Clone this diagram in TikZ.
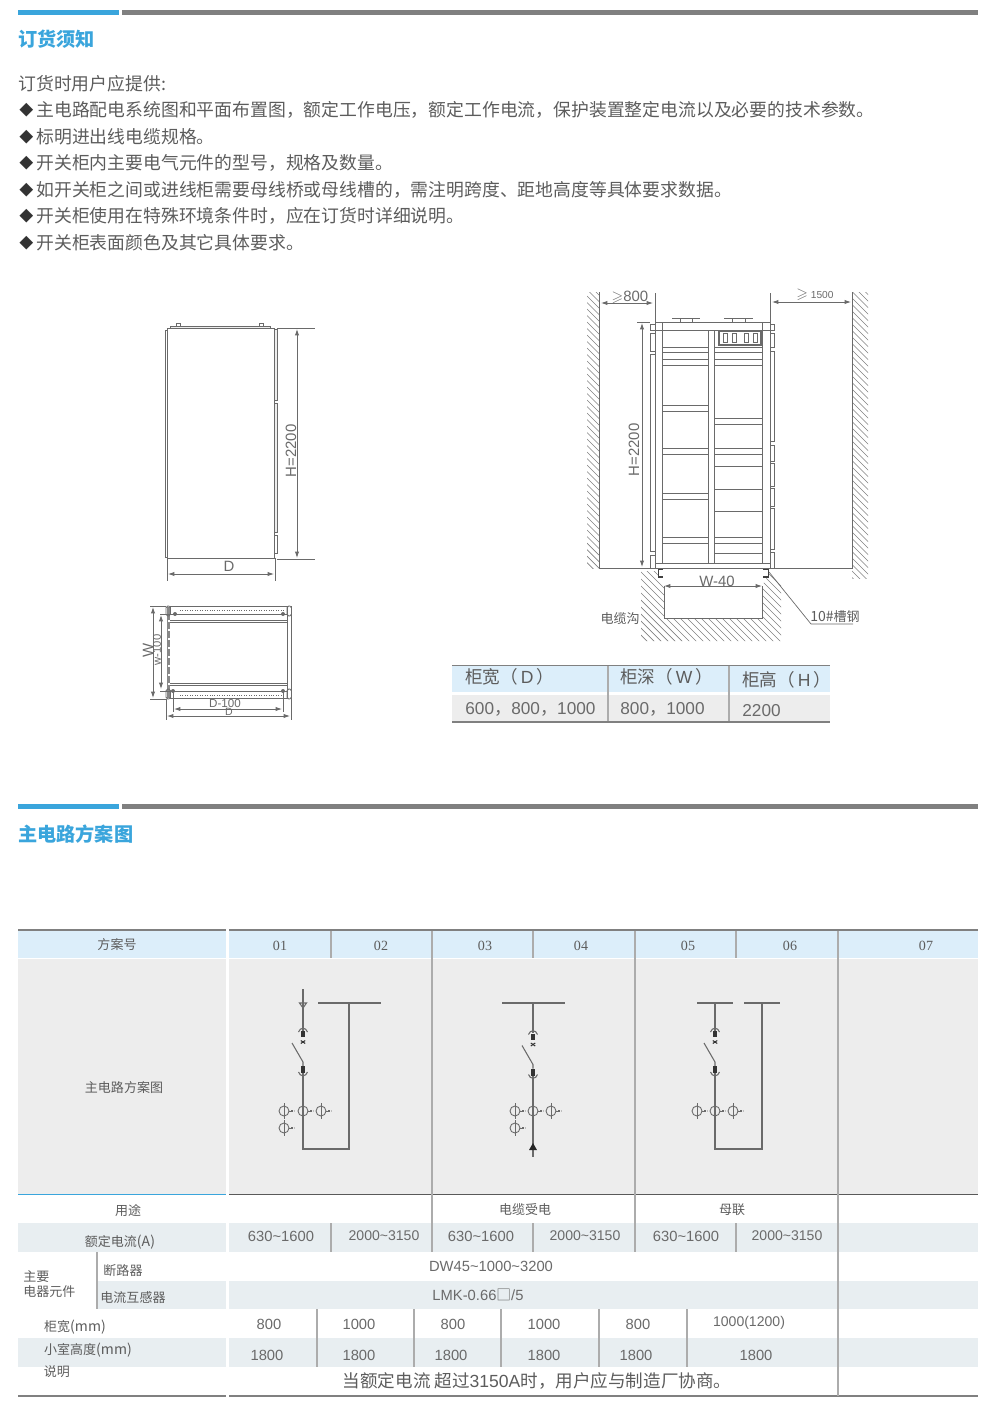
\documentclass[tikz,border=0pt]{standalone}
\usepackage{fontspec}
\usepackage{amssymb}
\usetikzlibrary{arrows.meta}
\setmainfont{Liberation Sans}
\newfontfamily\cjk{Noto Sans CJK SC}
\newfontfamily\numserif{Liberation Serif}
\definecolor{titleblue}{HTML}{3AA5DC}
\definecolor{rulegray}{HTML}{808080}
\definecolor{headblue}{HTML}{DCEEFA}
\definecolor{tintrow}{HTML}{E8EEF1}
\definecolor{panelgray}{HTML}{EDEDED}
\definecolor{linegray}{HTML}{6A6A6A}
\definecolor{textgray}{HTML}{5C5C5C}
\definecolor{numgray}{HTML}{6A6A6A}
\definecolor{divgray}{HTML}{ACACAC}
\newcommand{\tld}{\textasciitilde}
\tikzset{
	titletext/.style={font=\cjk\bfseries\fontsize{10.9}{13}\selectfont, text=titleblue, anchor=west, inner sep=0pt},
	bodytext/.style={font=\cjk\fontsize{10.15}{12}\selectfont, text=textgray, anchor=west, inner sep=0pt},
	bullettext/.style={font=\cjk\fontsize{8}{10}\selectfont, text=black!80, inner sep=0pt},
	dimtext/.style={font=\fontsize{8.5}{10}\selectfont, text=numgray, inner sep=0pt},
	dimcjk/.style={font=\cjk\fontsize{7.4}{9}\selectfont, text=textgray, inner sep=0pt},
	celltext/.style={font=\cjk\fontsize{7.4}{9}\selectfont, text=textgray, inner sep=0pt},
	cellnum/.style={font=\fontsize{8.4}{10}\selectfont, text=numgray, inner sep=0pt},
	smallcell/.style={font=\cjk\fontsize{10}{12}\selectfont, text=textgray, anchor=west, inner sep=0pt},
	smallnum/.style={font=\fontsize{9.8}{12}\selectfont, text=numgray, anchor=west, inner sep=0pt},
	frame/.style={draw=linegray, line width=0.45pt},
	dimline/.style={draw=linegray, line width=0.4pt},
	dimarrow/.style={draw=linegray, line width=0.45pt, <->, >={Latex[length=3.6pt,width=2.4pt]}},
	hatchline/.style={draw=linegray!85, line width=0.4pt},
	circuit/.style={draw=linegray, line width=0.6pt},
	divider/.style={draw=divgray, line width=0.6pt}
}
\begin{document}
\begin{tikzpicture}[x=0.02cm, y=-0.02cm]
	\useasboundingbox (0,0) rectangle (1000,1407);

	% section bars and titles
	\foreach \by in {10,804}{
		\fill[titleblue] (18,\by) rectangle (119,\by+4.5);
		\fill[rulegray] (122,\by) rectangle (978,\by+4.5);
	}
	\node[titletext] (titleorder) at (18,39) {订货须知};
	\node[titletext] (titlecircuit) at (18,834) {主电路方案图};

	% ordering notes
	\node[bodytext] (intro) at (18,84) {订货时用户应提供:};
	\foreach \ly/\lt [count=\li] in {
		110/主电路配电系统图和平面布置图，额定工作电压，额定工作电流，保护装置整定电流以及必要的技术参数。,
		137/标明进出线电缆规格。,
		163/开关柜内主要电气元件的型号，规格及数量。,
		190/如开关柜之间或进线柜需要母线桥或母线槽的，需注明跨度、距地高度等具体要求数据。,
		216/开关柜使用在特殊环境条件时，应在订货时详细说明。,
		243/开关柜表面颜色及其它具体要求。}{
		\node[bullettext] (bul\li) at (26.5,\ly) {◆};
		\node[bodytext] (note\li) at (36,\ly) {\lt};
	}

	% front view of cabinet
	\draw[frame] (167,328) rectangle (274,558);
	\draw[frame] (165,330) rectangle (167,557);
	\draw[frame, fill=panelgray] (170,326) rectangle (270,328);
	\draw[frame] (176,326) -- (176,323) -- (180,323) -- (180,326);
	\draw[frame] (259,326) -- (259,323) -- (263,323) -- (263,326);
	\draw[frame, fill=panelgray] (274,329) rectangle (277,400);
	\draw[frame, fill=panelgray] (274,403) rectangle (277,532);
	\draw[frame] (274,535) rectangle (277,553);
	\draw[dimline] (277,328) -- (315,328);
	\draw[dimline] (277,559) -- (315,559);
	\draw[dimarrow] (297,329) -- (297,558);
	\node[dimtext, rotate=90] (dimhfront) at (291,451) {H=2200};
	\draw[dimline] (167,558) -- (167,581);
	\draw[dimline] (275,558) -- (275,581);
	\draw[dimarrow] (168,574) -- (274,574);
	\node[dimtext] (dimdfront) at (229,566) {D};

	% plan view of cabinet
	\fill[linegray!80] (167,607) rectangle (170,698);
	\foreach \py in {620,629,...,690}{
		\fill[white] (168,\py) rectangle (169.5,\py+1.5);
	}
	\draw[frame] (170,606) rectangle (287,614);
	\draw[frame] (170,691) rectangle (287,698);
	\draw[frame] (170,620) -- (287,620);
	\draw[frame] (170,622) -- (287,622);
	\draw[frame] (170,683) -- (287,683);
	\draw[frame] (170,685) -- (287,685);
	\draw[dimline, densely dotted] (180,610) -- (284,610);
	\draw[dimline, densely dotted] (180,695) -- (284,695);
	\draw[frame] (287,606) -- (287,699);
	\draw[frame] (291,606) -- (291,699);
	\foreach \px/\py in {166/606,287/606,166/689,287/689}{
		\draw[frame, rounded corners=1pt] (\px,\py) rectangle (\px+4.5,\py+10);
	}
	\foreach \px/\py in {175/614,283/614,173/691,283/691}{
		\fill[linegray] (\px,\py) circle [radius=2];
	}
	\draw[dimline] (150,606) -- (166,606);
	\draw[dimline] (150,699) -- (166,699);
	\draw[dimline] (160,614) -- (170,614);
	\draw[dimline] (160,691) -- (170,691);
	\draw[dimarrow] (153,607) -- (153,698);
	\draw[dimarrow] (161,615) -- (161,689);
	\node[dimtext, rotate=90] (dimwplan) at (148,650) {W};
	\node[dimtext, rotate=90, font=\fontsize{6.4}{8}\selectfont] (dimwinner) at (157,650) {w-100};
	\draw[dimline] (166,699) -- (166,720);
	\draw[dimline] (291,699) -- (291,720);
	\draw[dimline] (173,691) -- (173,712);
	\draw[dimline] (283,691) -- (283,712);
	\draw[dimarrow] (174,709) -- (282,709);
	\draw[dimarrow] (167,716) -- (290,716);
	\node[dimtext, font=\fontsize{6.6}{8}\selectfont] (dimdinner) at (225,703) {D-100};
	\node[dimtext, font=\fontsize{6}{7}\selectfont] (dimdplan) at (229,712) {D};

	% side walls and trench
	\begin{scope}
		\clip (587,292) rectangle (599,568);
		\foreach \hy in {270,276.5,...,570}{
			\draw[hatchline] (587,\hy) -- (602,\hy+15);
		}
	\end{scope}
	\begin{scope}
		\clip (852,292) rectangle (868,578);
		\foreach \hy in {270,276.5,...,580}{
			\draw[hatchline] (850,\hy) -- (870,\hy+20);
		}
	\end{scope}
	\begin{scope}
		\clip (641,571) -- (655,571) -- (664,583) -- (664,618) -- (762,618) -- (762,586) -- (770,572)
			-- (781,585) -- (781,641) -- (641,641) -- cycle;
		\foreach \hy in {420,427,...,640}{
			\draw[hatchline] (636,\hy) -- (790,\hy+154);
		}
	\end{scope}
	\draw[frame] (599,292) -- (599,568) -- (852,568) -- (852,292);
	\draw[frame] (664,586) -- (664,618) -- (762,618) -- (762,586);

	% cabinet elevation
	\draw[frame] (655,293) -- (655,568);
	\draw[frame] (770,293) -- (770,568);
	\draw[frame] (655,322) -- (770,322);
	\draw[frame] (655,330) -- (770,330);
	\draw[frame] (655,563.5) -- (770,563.5);
	\draw[frame] (662,322) -- (662,563.5);
	\draw[frame] (762,322) -- (762,563.5);
	\draw[frame] (708,330) -- (708,563.5);
	\draw[frame] (714,330) -- (714,563.5);
	\draw[frame] (708,330) -- (714,330);
	% lugs on top
	\draw[frame] (672,318) -- (700,318);
	\draw[frame] (680,318) -- (680,322);
	\draw[frame] (692,318) -- (692,322);
	\draw[frame] (724,318) -- (753,318);
	\draw[frame] (732,318) -- (732,322);
	\draw[frame] (745,318) -- (745,322);
	% meter box
	\draw[frame, line width=0.6pt] (719,331) rectangle (761,345);
	\foreach \mx in {723,732,744,753}{
		\draw[frame] (\mx,333.5) rectangle (\mx+4,342.5);
	}
	% bars, left and right column
	\foreach \ba in {347,352,359,365,405,411,448,454,493,499,537,543}{
		\draw[frame] (662,\ba) -- (708,\ba);
	}
	\foreach \ba in {347,352,359,365,418,424,448,454,466,489,511,537,543,553}{
		\draw[frame] (714,\ba) -- (762,\ba);
	}
	% strips beside the frame
	\foreach \sa/\sb in {324/330,333/351,354/551,555/568}{
		\draw[frame] (650,\sa) rectangle (655,\sb);
	}
	\foreach \sa/\sb in {324/330,333/347,351/441,445/461,463/486,488/506,508/549,552/568}{
		\draw[frame] (770,\sa) rectangle (774,\sb);
	}
	% channel steel
	\draw[draw=black!75, line width=1.1pt] (663,569.5) -- (658.5,569.5) -- (658.5,577) -- (663,577);
	\draw[draw=black!75, line width=1.1pt] (763,569.5) -- (768.5,569.5) -- (768.5,577) -- (763,577);

	\draw[dimarrow] (601,303) -- (653,303);
	\draw[dimarrow] (772,302) -- (851,302);
	\node[dimtext] (dimgapleft) at (630,297) {$\geqslant$800};
	\node[dimtext, font=\fontsize{5.8}{7}\selectfont] (dimgapright) at (815,295) {\fontsize{8.5}{10}\selectfont$\geqslant$\fontsize{5.8}{7}\selectfont\ 1500};
	\draw[dimline] (637,322) -- (650,322);
	\draw[dimarrow] (642,323) -- (642,567);
	\node[dimtext, rotate=90] (dimhside) at (634,450) {H=2200};
	\draw[dimarrow] (664,586) -- (762,586);
	\node[dimtext] (dimtrench) at (717,581) {W-40};
	\node[dimcjk, fill=white, inner sep=0.5pt] (trenchlabel) at (620,619) {电缆沟};
	\node[dimcjk] (steellabel) at (835,617) {{\fontsize{8}{9}\selectfont 10\#}槽钢};
	\draw[dimline] (769,572) -- (811,624) -- (853,624);

	% dimension table
	\fill[headblue] (452,666) rectangle (830,692);
	\fill[panelgray] (452,695) rectangle (830,721);
	\draw[draw=rulegray, line width=0.9pt] (452,665.5) -- (830,665.5);
	\draw[draw=rulegray, line width=0.9pt] (452,722) -- (830,722);
	\draw[divider] (608,666) -- (608,721);
	\draw[divider] (729,666) -- (729,721);
	\node[smallcell] (sizehead1) at (465,677) {柜宽（\,{\fontfamily{\rmdefault}\selectfont D}\,）};
	\node[smallcell] (sizehead2) at (620,677) {柜深（\,{\fontfamily{\rmdefault}\selectfont W}\,）};
	\node[smallcell] (sizehead3) at (742,680) {柜高（\,{\fontfamily{\rmdefault}\selectfont H}\,）};
	\node[smallnum] (sizeval1) at (465,709) {600{\cjk，}800{\cjk，}1000};
	\node[smallnum] (sizeval2) at (620,709) {800{\cjk，}1000};
	\node[smallnum] (sizeval3) at (742,711) {2200};

	% main table, fills
	\foreach \ax/\bx in {18/226,229/978}{
		\fill[headblue] (\ax,931) rectangle (\bx,958);
		\fill[panelgray] (\ax,959) rectangle (\bx,1194);
		\fill[tintrow] (\ax,1223) rectangle (\bx,1252);
		\fill[tintrow] (\ax,1338) rectangle (\bx,1367);
		\draw[draw=rulegray, line width=1.1pt] (\ax,930) -- (\bx,930);
		\draw[draw=rulegray, line width=1.1pt] (\ax,1396) -- (\bx,1396);
	}
	\fill[tintrow] (97,1281) rectangle (226,1309);
	\fill[tintrow] (229,1281) rectangle (978,1309);
	\draw[draw=titleblue, line width=0.8pt] (18,1194.5) -- (226,1194.5);
	\draw[draw=black!65, line width=0.9pt] (229,1194.5) -- (978,1194.5);

	% main table, dividers
	\foreach \dx in {331,533,736}{
		\draw[divider] (\dx,931) -- (\dx,958);
		\draw[divider] (\dx,1223) -- (\dx,1252);
	}
	\foreach \dx in {432,635}{
		\draw[divider] (\dx,931) -- (\dx,1252);
	}
	\draw[divider] (838,931) -- (838,1396);
	\draw[divider] (97,1252) -- (97,1309);
	\foreach \dx in {317,414,501,599,687}{
		\draw[divider] (\dx,1309) -- (\dx,1367);
	}

	% main table, header and row labels
	\node[celltext] (headscheme) at (117,945) {方案号};
	\foreach \hx/\hl in {280/01,381/02,485/03,581/04,688/05,790/06,926/07}{
		\node[cellnum, font=\numserif\fontsize{8}{10}\selectfont, text=textgray] (head\hl) at (\hx,946) {\hl};
	}
	\node[celltext] (rowdiagram) at (124,1088) {主电路方案图};
	\node[celltext] (rowuse) at (128,1211) {用途};
	\node[celltext] (usecable) at (525,1210) {电缆受电};
	\node[celltext] (usetie) at (732,1210) {母联};
	\node[celltext] (rowcurrent) at (120,1242) {额定电流{\fontsize{8}{9}\selectfont (A)}};
	\node[celltext, anchor=west] (rowmain1) at (23,1277) {主要};
	\node[celltext, anchor=west] (rowmain2) at (23,1292) {电器元件};
	\node[celltext] (rowbreaker) at (123,1271) {断路器};
	\node[celltext] (rowct) at (133,1298) {电流互感器};
	\node[celltext] (rowwidth) at (75,1327) {柜宽{\fontsize{8}{9}\selectfont (mm)}};
	\node[celltext] (rowheight) at (88,1350) {小室高度{\fontsize{8}{9}\selectfont (mm)}};
	\node[celltext] (rownote) at (57,1372) {说明};

	% main table, values
	\foreach \vx [count=\vi] in {281,481,686}{
		\node[cellnum] (curlow\vi) at (\vx,1236) {630\tld 1600};
	}
	\foreach \vx [count=\vi] in {384,585,787}{
		\node[cellnum, font=\fontsize{8}{10}\selectfont] (curhigh\vi) at (\vx,1236) {2000\tld 3150};
	}
	\node[cellnum] (breakertype) at (491,1266) {DW45\tld 1000\tld 3200};
	\node[cellnum] (cttype) at (478,1295) {LMK-0.66{\cjk □}/5};
	\foreach \vx/\vt [count=\vi] in {269/800,359/1000,453/800,544/1000,638/800}{
		\node[cellnum] (width\vi) at (\vx,1324) {\vt};
	}
	\node[cellnum, font=\fontsize{8}{10}\selectfont] (width6) at (749,1323) {1000(1200)};
	\foreach \vx [count=\vi] in {267,359,451,544,636,756}{
		\node[cellnum] (height\vi) at (\vx,1355) {1800};
	}
	\node[celltext, font=\cjk\fontsize{10}{12}\selectfont] (notetext) at (537,1381) {当额定电流 超过{\fontfamily{\rmdefault}\selectfont 3150A}时，用户应与制造厂协商。};

	% circuit diagrams
	\foreach \ux/\uy in {303/0,533/2.5,715/0}{
		\begin{scope}[shift={(\ux,\uy)}, circuit]
			\draw (-4.5,1032) .. controls (-3,1027) and (3,1027) .. (4.5,1032);
			\fill[black!80] (-1.7,1031) rectangle (1.7,1037);
			\draw[black!80] (-2.2,1040.5) -- (2.2,1043.5);
			\draw[black!80] (-2.2,1043.5) -- (2.2,1040.5);
			\draw (-11,1043) -- (0,1062) -- (0,1066);
			\fill[black!80] (-1.7,1066) rectangle (1.7,1073);
			\draw (-4.5,1072) .. controls (-3,1077) and (3,1077) .. (4.5,1072);
			\draw (0,1073) -- (0,1080);
		\end{scope}
	}
	% first scheme
	\draw[circuit] (303,989) -- (303,1031);
	\draw[circuit] (299.5,1003) -- (306.5,1003) -- (303,1008) -- cycle;
	\draw[circuit] (318,1003) -- (381,1003);
	\draw[circuit] (303,1080) -- (303,1149) -- (349,1149) -- (349,1003);
	% second scheme
	\draw[circuit] (502,1003) -- (565,1003);
	\draw[circuit] (533,1003) -- (533,1033);
	\draw[circuit] (533,1080) -- (533,1157);
	\fill[black!85] (529,1150) -- (537,1150) -- (533,1143) -- cycle;
	% third scheme
	\draw[circuit] (697,1003) -- (733,1003);
	\draw[circuit] (744,1003) -- (780,1003);
	\draw[circuit] (715,1003) -- (715,1031);
	\draw[circuit] (715,1080) -- (715,1149) -- (762,1149) -- (762,1003);
	% current transformers
	\foreach \cx/\cy in {303/1111,533/1111,715/1111,284/1111,321/1111,284/1128,515/1111,551/1111,515/1128,697/1111,733/1111}{
		\draw[circuit, line width=0.5pt] (\cx,\cy) circle [radius=5];
		\draw[circuit, line width=0.5pt] (\cx+5,\cy) -- (\cx+7,\cy);
		\draw[draw=linegray, line width=0.9pt, dash pattern=on 1.2pt off 0.5pt] (\cx+7,\cy) -- (\cx+10,\cy);
	}
	\foreach \cx/\cy in {284/1111,321/1111,284/1128,515/1111,551/1111,515/1128,697/1111,733/1111}{
		\draw[circuit, line width=0.5pt] (\cx,\cy-8) -- (\cx,\cy+8);
	}
\end{tikzpicture}
\end{document}
